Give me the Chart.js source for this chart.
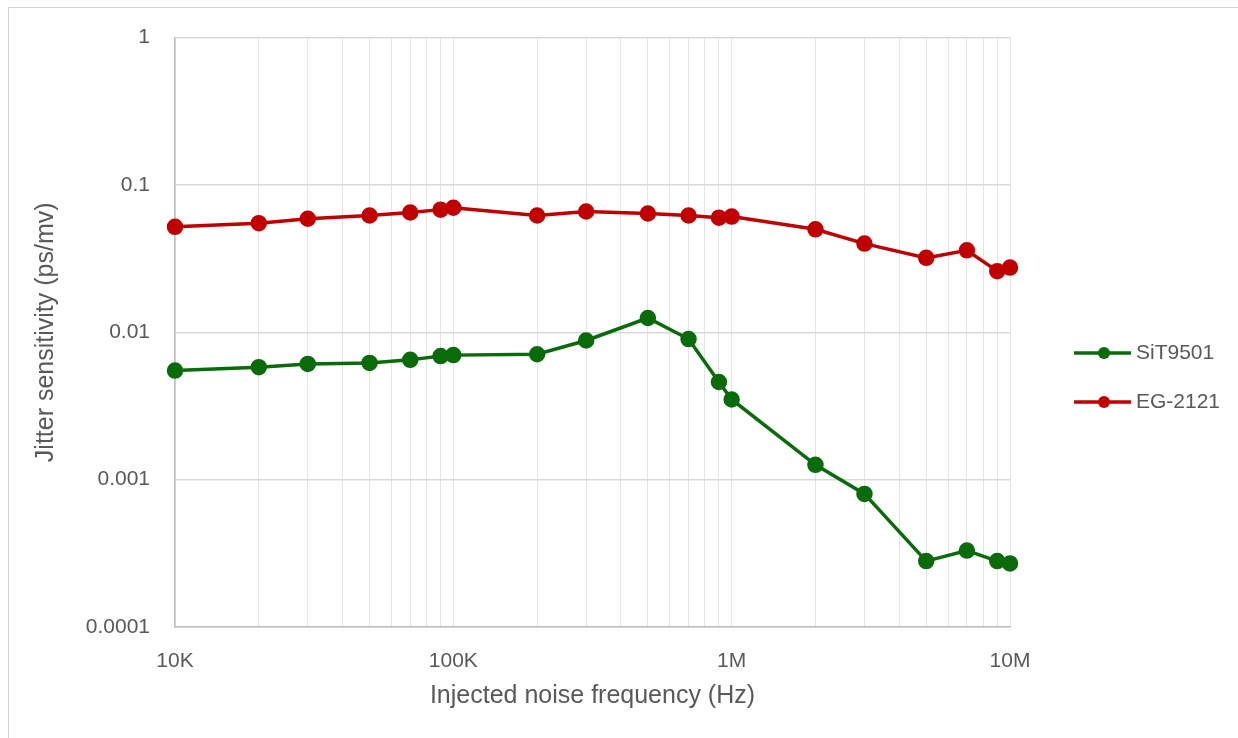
<!DOCTYPE html>
<html>
<head>
<meta charset="utf-8">
<script src="https://cdn.jsdelivr.net/npm/chart.js@4"></script>
<style>
    body { margin: 0; background: #fff; }
    #wrap { position: relative; width: 1238px; height: 738px; }
    #frame {
        position: absolute; left: 8px; top: 7px; right: 0; bottom: 0;
        border-top: 1px solid #d4d4d4; border-left: 1px solid #d4d4d4;
    }
    canvas { position: absolute; left: 0; top: 0; }
</style>
</head>
<body>
<div id="wrap">
    <div id="frame"></div>
    <canvas id="jitterChart"></canvas>
</div>
<script>
// injected noise frequency (Hz)
const frequencies = [1e4, 2e4, 3e4, 5e4, 7e4, 9e4, 1e5, 2e5, 3e5, 5e5, 7e5, 9e5,
                     1e6, 2e6, 3e6, 5e6, 7e6, 9e6, 1e7];
// jitter sensitivity (ps/mv)
const sit9501 = [0.0055, 0.0058, 0.0061, 0.0062, 0.0065, 0.0069, 0.0070, 0.0071, 0.0088, 0.0125,
                 0.0090, 0.0046, 0.0035, 0.00126, 0.00080, 0.00028, 0.00033, 0.00028, 0.00027];
const eg2121 = [0.052, 0.055, 0.059, 0.062, 0.065, 0.068, 0.070, 0.062, 0.066, 0.064,
                0.062, 0.060, 0.061, 0.050, 0.040, 0.032, 0.036, 0.026, 0.0275];
const xTickLabels = { 1e4: '10K', 1e5: '100K', 1e6: '1M', 1e7: '10M' };
const yTickValues = [0.0001, 0.001, 0.01, 0.1, 1];
const yTickLabels = ['0.0001', '0.001', '0.01', '0.1', '1'];

const textColor = '#595959';
const fontFamily = "'Liberation Sans', Arial, sans-serif";

function toPoints(values) {
    return frequencies.map((f, i) => ({ x: f, y: values[i] }));
}

// all 1..9 x 10^n gridlines between 10K and 10M
function logGridTicks() {
    const ticks = [];
    for (let dec = 1e4; dec < 1e7; dec *= 10) {
        for (let m = 1; m <= 9; m++) ticks.push({ value: m * dec });
    }
    ticks.push({ value: 1e7 });
    return ticks;
}

const sideLegend = {
    id: 'sideLegend',
    afterDraw(chart) {
        const ctx = chart.ctx;
        ctx.save();
        chart.data.datasets.forEach((ds, i) => {
            const y = 353 + i * 49;
            ctx.strokeStyle = ds.borderColor;
            ctx.lineWidth = 3.5;
            ctx.beginPath();
            ctx.moveTo(1074, y);
            ctx.lineTo(1131, y);
            ctx.stroke();
            ctx.fillStyle = ds.backgroundColor;
            ctx.beginPath();
            ctx.arc(1104, y, 6, 0, Math.PI * 2);
            ctx.fill();
            ctx.fillStyle = textColor;
            ctx.font = '21px ' + fontFamily;
            ctx.textBaseline = 'middle';
            ctx.textAlign = 'left';
            ctx.fillText(ds.label, 1136, y);
        });
        ctx.restore();
    }
};

const ctx = document.getElementById('jitterChart').getContext('2d');
new Chart(ctx, {
    type: 'line',
    data: {
        datasets: [{
            label: 'SiT9501',
            data: toPoints(sit9501),
            borderColor: '#0a6b0a',
            backgroundColor: '#0a6b0a',
            borderWidth: 3.5,
            pointRadius: 6.5,
            pointHoverRadius: 6.5,
            clip: false
        }, {
            label: 'EG-2121',
            data: toPoints(eg2121),
            borderColor: '#c00000',
            backgroundColor: '#c00000',
            borderWidth: 3.5,
            pointRadius: 6.5,
            pointHoverRadius: 6.5,
            clip: false
        }]
    },
    options: {
        responsive: true,
        maintainAspectRatio: false,
        animation: false,
        layout: { padding: { top: 35, right: 228, left: 0, bottom: 0 } },
        plugins: {
            legend: { display: false },
            tooltip: { enabled: false }
        },
        scales: {
            x: {
                type: 'logarithmic',
                min: 1e4,
                max: 1e7,
                afterBuildTicks: (scale) => { scale.ticks = logGridTicks(); },
                afterFit: (scale) => { scale.height = 111; },
                grid: { color: '#e4e4e4', lineWidth: 1, drawTicks: false },
                border: { color: '#bfbfbf', width: 1.5 },
                ticks: {
                    autoSkip: false,
                    maxRotation: 0,
                    padding: 22,
                    color: textColor,
                    font: { family: fontFamily, size: 21 },
                    callback: (value) => xTickLabels[value] || ''
                },
                title: {
                    display: true,
                    text: 'Injected noise frequency (Hz)',
                    color: textColor,
                    font: { family: fontFamily, size: 25 },
                    padding: { top: 0, bottom: 27 }
                }
            },
            y: {
                type: 'logarithmic',
                min: 0.0001,
                max: 1,
                afterBuildTicks: (scale) => { scale.ticks = yTickValues.map(v => ({ value: v })); },
                afterFit: (scale) => { scale.width = 175; },
                grid: { color: '#d9d9d9', lineWidth: 1.5, drawTicks: false },
                border: { color: '#bfbfbf', width: 1.5 },
                ticks: {
                    autoSkip: false,
                    padding: 25,
                    color: textColor,
                    font: { family: fontFamily, size: 21 },
                    callback: (value) => {
                        const idx = yTickValues.findIndex(v => Math.abs(v - value) / v < 1e-6);
                        return idx >= 0 ? yTickLabels[idx] : '';
                    }
                },
                title: {
                    display: true,
                    text: 'Jitter sensitivity (ps/mv)',
                    color: textColor,
                    font: { family: fontFamily, size: 25 },
                    padding: { top: 31, bottom: 0 }
                }
            }
        }
    },
    plugins: [sideLegend]
});
</script>
</body>
</html>
